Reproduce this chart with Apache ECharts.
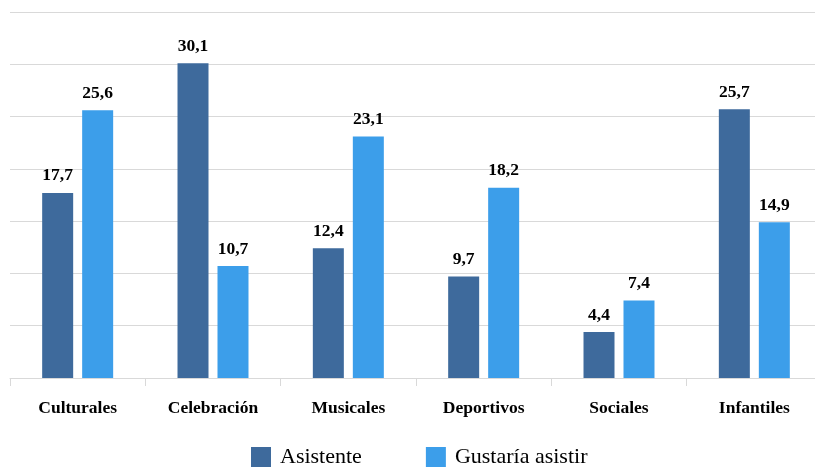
<!DOCTYPE html>
<html><head><meta charset="utf-8">
<script src="https://cdn.jsdelivr.net/npm/echarts@6/dist/echarts.min.js"></script>
<style>html,body{margin:0;padding:0;background:#fff}#c{width:815px;height:467px}</style>
</head><body><div id="c"></div>
<script>
const categories = ['Culturales','Celebración','Musicales','Deportivos','Sociales','Infantiles'];
const asistente = [17.7, 30.1, 12.4, 9.7, 4.4, 25.7];
const gustaria = [25.6, 10.7, 23.1, 18.2, 7.4, 14.9];
const seriesNames = ['Asistente','Gustaría asistir'];

const chart = echarts.init(document.getElementById('c'), null, {renderer:'canvas'});
const serif = '"Liberation Serif", "DejaVu Serif", serif';
const lbl = {
  show: true, position: 'top', distance: 8,
  fontFamily: serif, fontWeight: 'bold', fontSize: 17.5, color: '#000',
  formatter: p => p.value.toFixed(1).replace('.', ',')
};
chart.setOption({
  animation: false,
  grid: {left: 10, right: -7, top: 12, bottom: 89, outerBoundsMode: 'none', containLabel: false},
  legend: {
    top: 441, left: 246, itemWidth: 20, itemHeight: 20, itemGap: 64,
    icon: 'rect',
    textStyle: {fontFamily: serif, fontSize: 22, color: '#000', padding: [0, 0, 0, 4]},
    data: seriesNames
  },
  xAxis: {
    type: 'category', data: categories,
    axisLine: {lineStyle: {color: '#d9d9d9'}},
    axisTick: {show: true, length: 8, lineStyle: {color: '#d9d9d9'}},
    axisLabel: {fontFamily: serif, fontWeight: 'bold', fontSize: 17.5, color: '#000', margin: 21}
  },
  yAxis: {
    type: 'value', min: 0, max: 35, interval: 5,
    axisLabel: {show: false}, axisLine: {show: false}, axisTick: {show: false},
    splitLine: {lineStyle: {color: '#d9d9d9', width: 1}}
  },
  series: [
    {name: seriesNames[0], type: 'bar', data: asistente, barWidth: 31, barGap: '29%',
     itemStyle: {color: '#3E6A9C'}, label: lbl},
    {name: seriesNames[1], type: 'bar', data: gustaria, barWidth: 31, barGap: '29%',
     itemStyle: {color: '#3C9EEA'}, label: lbl}
  ]
});
</script></body></html>
